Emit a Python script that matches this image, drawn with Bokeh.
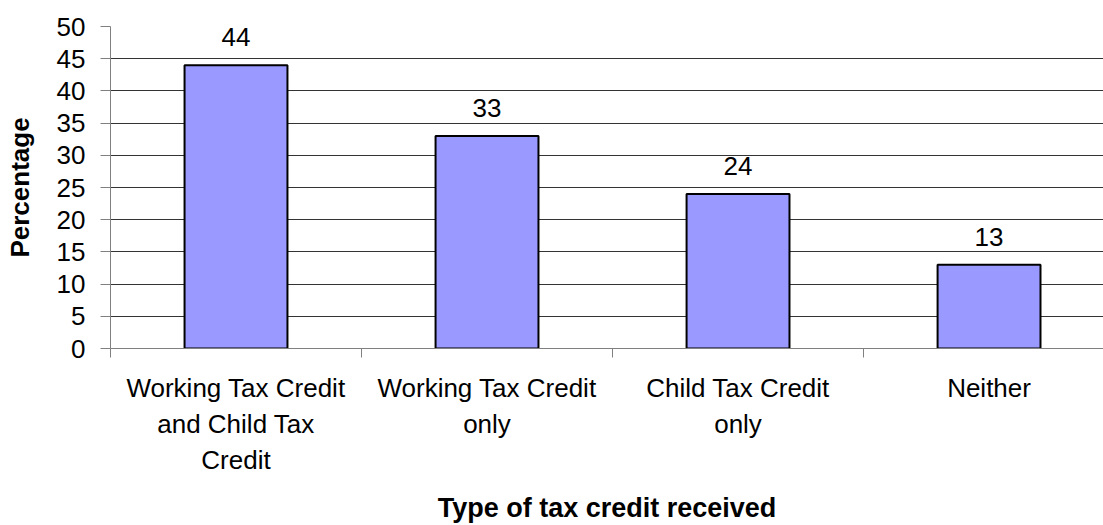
from bokeh.plotting import figure
from bokeh.models import Range1d, FixedTicker, ColumnDataSource
from bokeh.core.properties import value
from bokeh.embed import file_html
from bokeh.resources import INLINE

categories = ["Working Tax Credit\nand Child Tax\nCredit",
              "Working Tax Credit\nonly",
              "Child Tax Credit\nonly",
              "Neither"]
percentages = [44, 33, 24, 13]
y_ticks = [0, 5, 10, 15, 20, 25, 30, 35, 40, 45, 50]

FONT = "Liberation Sans"

xpos = [i + 0.5 for i in range(len(categories))]
src = ColumnDataSource(dict(x=xpos, top=percentages,
                            lbl=[str(v) for v in percentages]))

p = figure(width=1103, height=525, output_backend="svg", toolbar_location=None,
           x_range=Range1d(0, 3.956), y_range=Range1d(0, 50),
           min_border_left=110, min_border_right=0, min_border_top=26,
           min_border_bottom=177)
p.outline_line_color = None
p.background_fill_color = "white"
p.border_fill_color = "white"

p.vbar(x="x", top="top", width=0.41, source=src, fill_color="#9999FF",
       line_color="black", line_width=2)
p.text(x="x", y="top", text="lbl", source=src, text_align="center",
       text_baseline="alphabetic", y_offset=-28, text_font=value(FONT),
       text_font_size="26px", text_color="black")

# x axis
xa = p.xaxis[0]
xa.ticker = FixedTicker(ticks=xpos, minor_ticks=[0, 1, 2, 3, 4])
xa.major_label_overrides = {x: c for x, c in zip(xpos, categories)}
xa.major_tick_out = 0
xa.major_tick_in = 0
xa.minor_tick_out = 9
xa.minor_tick_in = 0
xa.minor_tick_line_color = "#808080"
xa.axis_line_color = "#808080"
xa.major_label_text_font = FONT
xa.major_label_text_font_size = "26px"
xa.major_label_text_color = "black"
xa.major_label_standoff = 15
xa.axis_label = "Type of tax credit received"
xa.axis_label_text_font = FONT
xa.axis_label_text_font_style = "bold"
xa.axis_label_text_font_size = "27px"
xa.axis_label_text_color = "black"
xa.axis_label_standoff = 15

# y axis
ya = p.yaxis[0]
ya.ticker = FixedTicker(ticks=y_ticks)
ya.major_tick_out = 10
ya.major_tick_in = 0
ya.minor_tick_line_color = None
ya.major_tick_line_color = "#808080"
ya.axis_line_color = "#808080"
ya.major_label_text_font = FONT
ya.major_label_text_font_size = "26px"
ya.major_label_text_color = "black"
ya.major_label_standoff = 15
ya.axis_label = "Percentage"
ya.axis_label_text_font = FONT
ya.axis_label_text_font_style = "bold"
ya.axis_label_text_font_size = "26px"
ya.axis_label_text_color = "black"
ya.axis_label_standoff = 19

p.xgrid.grid_line_color = None
p.ygrid.ticker = FixedTicker(ticks=y_ticks[1:-1])
p.ygrid.grid_line_color = "#333333"
p.ygrid.grid_line_width = 1

open("out.html", "w").write(file_html(p, INLINE))
